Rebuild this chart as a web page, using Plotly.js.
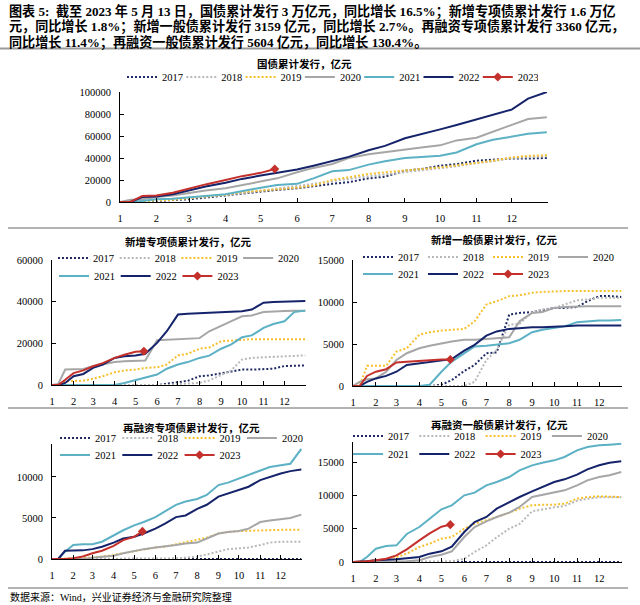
<!DOCTYPE html>
<html>
<head>
<meta charset="utf-8">
<script src="https://cdn.plot.ly/plotly-3.0.1.min.js"></script>
<style>html,body{margin:0;padding:0;background:#fff;}#chart{width:640px;height:605px;}</style>
</head>
<body>
<div id="chart"></div>
<script>
// ---------- DATA (亿元, cumulative issuance) ----------
const MD = ["01-01","01-10","01-20","02-01","02-15","03-01","03-15","04-01","04-15","05-01","05-15","06-01","06-15","07-01","07-15","08-01","08-15","09-01","09-15","10-01","10-15","11-01","11-15","12-01","12-15","12-31"];
const MD_2023 = ["01-01","01-10","01-20","02-01","02-15","03-01","03-15","04-01","04-15","05-01","05-13"];
const YEARS = ["2017","2018","2019","2020","2021","2022","2023"];
const MONTH_LABELS = ["1","2","3","4","5","6","7","8","9","10","11","12"];

// 国债累计发行
const GZ_2017 = [0,0,300,1000,1500,2500,4000,6000,8000,9500,11000,12500,14500,16500,18000,21500,23000,28500,30000,33000,34500,37500,38500,39500,39500,40000];
const GZ_2018 = [0,0,800,2000,3000,4000,5000,6500,8000,10000,12000,14500,16500,19000,21000,23500,25000,27000,28500,30500,32500,35500,37000,40000,41000,41500];
const GZ_2019 = [0,0,500,1500,2000,3500,5000,6500,9000,10000,11500,13000,15000,20000,22500,25500,27000,29000,30000,31500,33500,35500,37500,40500,42000,42500];
const GZ_2020 = [0,2000,2500,4500,6000,8500,10500,12500,15500,18500,21500,27000,31000,34500,40000,43500,45500,47500,49500,51500,56000,58500,64000,70000,75500,77000];
const GZ_2021 = [0,0,1000,2500,3000,4000,5500,7000,10000,13000,15500,16500,21500,28000,29000,34000,37000,40000,41000,42000,45000,52500,56500,59500,62000,63500];
const GZ_2022 = [0,0,4500,5000,7000,10500,14000,17500,21000,24000,26500,29500,33000,37500,41000,47000,51000,58000,61500,66000,70000,75000,79500,84000,94000,100000];
const GZ_2023 = [0,0,5500,6000,8500,12500,16000,20000,23500,26500,30000];

// 新增专项债累计发行
const XZ_2017 = [0,0,0,0,0,0,0,0,0,0,0,0,600,1400,2000,4200,4600,5600,6500,7400,7400,7500,7800,9100,9400,9400];
const XZ_2018 = [0,0,0,0,0,0,0,0,0,0,0,0,0,500,700,1000,2200,4600,6900,12200,13000,13300,13500,13800,14000,14200];
const XZ_2019 = [0,0,1800,1800,2100,3000,4200,6100,7000,7400,8200,8500,9800,14200,15000,17400,18000,21000,21300,22000,22000,22000,22000,22000,22000,22000];
const XZ_2020 = [0,500,7400,7500,7700,9000,9800,11000,11400,11700,11800,21500,21800,22000,22200,22500,25800,28200,30500,33000,33400,35000,35400,35500,35600,35700];
const XZ_2021 = [0,0,0,0,0,0,0,0,1000,2400,3400,5000,7800,9800,11000,13000,14100,17400,19400,22900,23800,27400,29300,30600,35000,35700];
const XZ_2022 = [0,0,1000,4200,5300,8200,9800,13000,13800,14200,15000,20200,25800,33800,34200,34500,34700,35000,35200,35400,36200,39500,39800,40000,40200,40300];
const XZ_2023 = [0,0,2500,5700,7000,9000,10500,13000,14500,16000,16200];

// 新增一般债累计发行
const XY_2017 = [0,0,0,0,0,0,0,0,0,150,700,1800,2500,3900,4000,8500,8700,8800,9000,9300,9300,9400,10100,10700,10700,10600];
const XY_2018 = [0,0,0,0,0,0,0,0,0,0,0,0,500,3100,4300,7300,7400,8800,9100,9300,9700,10200,10300,10500,10500,10500];
const XY_2019 = [0,0,2400,2400,2400,4100,4500,6100,6400,6600,6700,6800,7700,9700,10100,10700,10800,11100,11200,11300,11300,11300,11300,11300,11300,11300];
const XY_2020 = [0,500,800,900,1700,3100,3900,4500,4800,5100,5300,5500,5500,5600,5700,5800,7700,8700,8800,9300,9400,9500,9500,9500,9500,9500];
const XY_2021 = [0,0,0,0,0,0,0,0,150,1700,2900,3900,4700,4800,4900,5100,5500,6400,6700,6900,7100,7600,7700,7800,7800,7850];
const XY_2022 = [0,0,500,900,1200,1700,2500,2700,2900,3000,3200,4200,4900,6000,6500,6800,6900,7000,7000,7100,7100,7200,7200,7200,7200,7200];
const XY_2023 = [0,0,1200,1700,2000,2800,2900,3000,3100,3150,3159];

// 再融资专项债累计发行
const ZZ_2017 = [0,0,0,0,0,0,0,0,0,0,0,0,0,0,0,0,0,0,0,0,0,0,0,0,0,0];
const ZZ_2018 = [0,0,0,0,0,0,0,0,0,0,0,0,0,80,150,300,550,900,1200,1300,1400,1700,2000,2100,2100,2100];
const ZZ_2019 = [0,0,0,80,100,160,300,500,700,1000,1200,1400,1500,1800,2000,2300,2600,3100,3300,3400,3450,3500,3500,3550,3550,3550];
const ZZ_2020 = [0,0,0,0,0,150,300,400,700,1000,1200,1400,1500,1700,1900,2000,2500,3100,3300,3400,3700,4500,4700,4900,5000,5400];
const ZZ_2021 = [0,0,900,1700,1800,1800,2100,2900,3500,4100,4500,5100,5800,6600,7000,7300,7800,9000,9300,9800,10300,10800,11200,11400,11600,13400];
const ZZ_2022 = [0,0,1000,1000,1050,1200,1500,2000,2500,2700,3100,3700,4300,5100,5300,6100,6600,7600,8000,8400,8800,9600,10000,10400,10700,10900];
const ZZ_2023 = [0,0,0,100,300,700,1000,1600,2300,2700,3360];

// 再融资一般债累计发行
const ZY_2017 = [0,0,0,0,0,0,0,0,0,0,0,0,0,0,0,0,0,0,0,0,0,0,0,0,0,0];
const ZY_2018 = [0,0,0,0,0,0,0,0,0,0,100,500,1500,2500,3700,5000,5700,7600,7900,8200,8400,9200,9500,9700,9700,9700];
const ZY_2019 = [0,0,100,250,400,750,1250,2250,2750,3500,3750,5000,5750,6250,6750,7400,8000,8500,8600,8600,8750,9500,9750,9850,9800,9750];
const ZY_2020 = [0,0,0,0,0,0,100,250,750,1100,1600,3750,5250,6100,6750,7400,8250,9750,10100,10500,10750,11500,12250,12750,13000,13500];
const ZY_2021 = [0,0,750,2000,2400,2500,4200,5250,6500,7900,8500,10000,10400,11500,12000,12750,13750,14500,14900,15250,15750,16750,17250,17500,17600,17750];
const ZY_2022 = [0,0,100,250,300,400,550,750,1250,1600,2300,4500,6000,6750,8000,9000,9750,10600,11250,12000,12400,13100,13900,14500,14900,15100];
const ZY_2023 = [0,0,100,250,500,1000,1900,3250,4300,5300,5604];

const PANEL_TITLES = ["国债累计发行，亿元","新增专项债累计发行，亿元","新增一般债累计发行，亿元","再融资专项债累计发行，亿元","再融资一般债累计发行，亿元"];
const PANEL_SERIES = [
  [GZ_2017,GZ_2018,GZ_2019,GZ_2020,GZ_2021,GZ_2022,GZ_2023],
  [XZ_2017,XZ_2018,XZ_2019,XZ_2020,XZ_2021,XZ_2022,XZ_2023],
  [XY_2017,XY_2018,XY_2019,XY_2020,XY_2021,XY_2022,XY_2023],
  [ZZ_2017,ZZ_2018,ZZ_2019,ZZ_2020,ZZ_2021,ZZ_2022,ZZ_2023],
  [ZY_2017,ZY_2018,ZY_2019,ZY_2020,ZY_2021,ZY_2022,ZY_2023]
];
const HEADER_LINES = [
  "图表 5:  截至 2023 年 5 月 13 日，国债累计发行 3 万亿元，同比增长 16.5%；新增专项债累计发行 1.6 万亿",
  "元，同比增长 1.8%；新增一般债累计发行 3159 亿元，同比增长 2.7%。再融资专项债累计发行 3360 亿元，",
  "同比增长 11.4%；再融资一般债累计发行 5604 亿元，同比增长 130.4%。"
];
const SOURCE = "数据来源：Wind，兴业证券经济与金融研究院整理";

// ---------- STYLE / LAYOUT ----------
const W = 640, H = 605;
const FONT = "Liberation Serif, Noto Sans CJK SC, serif";
const YEAR_STYLE = {
  "2017": {color:"#1f2a66", dash:"2px,2px"},
  "2018": {color:"#b8b8b8", dash:"2px,2px"},
  "2019": {color:"#f5c02c", dash:"2px,2px"},
  "2020": {color:"#a6a6a6", dash:"solid"},
  "2021": {color:"#5cb1c5", dash:"solid"},
  "2022": {color:"#15236a", dash:"solid"},
  "2023": {color:"#c4302b", dash:"solid"}
};
// pixel geometry of each panel
const PANELS = [
  {xd:[120,548], yd:[92,202], ymax:100000, dtick:20000, tx:304, ty:64,
   legends:[{x:122, yc:77, ew:14.3, years:YEARS}]},
  {xd:[52,306], yd:[260,385], ymax:60000, dtick:20000, tx:188, ty:242,
   legends:[{x:53, yc:258, ew:16.7, years:YEARS.slice(0,4)},{x:54, yc:276, ew:16.7, years:YEARS.slice(4)}]},
  {xd:[353,622], yd:[260,386], ymax:15000, dtick:5000, tx:494, ty:240,
   legends:[{x:358, yc:257, ew:20, years:YEARS.slice(0,4)},{x:358, yc:274, ew:20, years:YEARS.slice(4)}]},
  {xd:[52,302], yd:[444,559], ymax:14000, dtick:5000, tx:191, ty:428,
   legends:[{x:55, yc:438, ew:17.3, years:YEARS.slice(0,4)},{x:55, yc:455, ew:17.3, years:YEARS.slice(4)}]},
  {xd:[353,622], yd:[442,562], ymax:18000, dtick:5000, tx:499, ty:425,
   legends:[{x:348, yc:436, ew:21.3, years:YEARS.slice(0,4)},{x:348, yc:454, ew:21.3, years:YEARS.slice(4)}]}
];

const px2x = p => p / W;
const px2y = p => 1 - p / H;
const toDate = md => "2021-" + md;
const tickVals = MONTH_LABELS.map((m,i) => "2021-" + String(i+1).padStart(2,"0") + "-01").concat(["2022-01-01"]);
const tickText = MONTH_LABELS.concat([""]);

const traces = [];
const layout = {
  width: W, height: H,
  margin: {l:0, r:0, t:0, b:0},
  paper_bgcolor: "#fff", plot_bgcolor: "rgba(0,0,0,0)",
  showlegend: true,
  font: {family: FONT, color: "#000"},
  annotations: [], shapes: []
};

let legendCount = 0;
PANELS.forEach((P, pi) => {
  const sfx = pi === 0 ? "" : String(pi + 1);
  const xa = "x" + sfx, ya = "y" + sfx;
  const legendOfYear = {};
  P.legends.forEach(L => {
    legendCount += 1;
    const id = legendCount === 1 ? "legend" : "legend" + legendCount;
    layout[id] = {
      orientation: "h", x: px2x(L.x), y: px2y(L.yc - 14.5), xanchor: "left", yanchor: "top",
      bgcolor: "rgba(0,0,0,0)", borderwidth: 0, entrywidth: L.ew, entrywidthmode: "pixels",
      itemwidth: 30, traceorder: "normal",
      font: {family: FONT, size: 10.5, color: "#000"}
    };
    L.years.forEach(y => legendOfYear[y] = id);
  });

  YEARS.forEach((yr, yi) => {
    const vals = PANEL_SERIES[pi][yi];
    const xs = (yr === "2023" ? MD_2023 : MD).map(toDate);
    const st = YEAR_STYLE[yr];
    const is23 = yr === "2023";
    traces.push({
      type: "scatter", mode: "lines", x: xs, y: vals, name: yr,
      xaxis: xa, yaxis: ya, legend: legendOfYear[yr], showlegend: !is23,
      line: {color: st.color, width: 2, dash: st.dash}, hoverinfo: "skip"
    });
    if (is23) {
      traces.push({
        type: "scatter", mode: "lines+markers", x: [xs[xs.length-1]], y: [vals[vals.length-1]], name: yr,
        xaxis: xa, yaxis: ya, legend: legendOfYear[yr], showlegend: true,
        line: {color: st.color, width: 2}, marker: {symbol: "diamond", size: 7, color: st.color},
        hoverinfo: "skip"
      });
    }
  });

  const xname = "xaxis" + sfx, yname = "yaxis" + sfx;
  layout[xname] = {
    type: "date", domain: [px2x(P.xd[0]), px2x(P.xd[1])], anchor: ya,
    range: ["2021-01-01", "2022-01-01"], tickmode: "array", tickvals: tickVals, ticktext: tickText,
    ticks: "inside", ticklen: 4, tickwidth: 1, tickcolor: "#000",
    showline: true, linecolor: "#000", linewidth: 1, showgrid: false, zeroline: false,
    tickfont: {family: FONT, size: 10.5, color: "#000"}, ticklabelstandoff: 6, fixedrange: true
  };
  layout[yname] = {
    domain: [px2y(P.yd[1]), px2y(P.yd[0])], anchor: xa,
    range: [0, P.ymax], tickmode: "linear", tick0: 0, dtick: P.dtick, tickformat: "d",
    ticks: "inside", ticklen: 4, tickwidth: 1, tickcolor: "#000",
    showline: true, linecolor: "#000", linewidth: 1, showgrid: false, zeroline: false,
    tickfont: {family: FONT, size: 10.5, color: "#000"}, ticklabelstandoff: 6, fixedrange: true
  };
  layout.annotations.push({
    xref: "paper", yref: "paper", x: px2x(P.tx), y: px2y(P.ty), xanchor: "center", yanchor: "middle",
    text: PANEL_TITLES[pi], showarrow: false,
    font: {family: FONT, size: 10.5, color: "#000", weight: "bold"}
  });
});

[11, 27, 43].forEach((yc, i) => {
  layout.annotations.push({
    xref: "paper", yref: "paper", x: px2x(7), y: px2y(yc), xanchor: "left", yanchor: "middle", align: "left",
    text: HEADER_LINES[i], showarrow: false, font: {family: FONT, size: 13.1, color: "#000", weight: "bold"}
  });
});
layout.annotations.push({
  xref: "paper", yref: "paper", x: px2x(8), y: px2y(597), xanchor: "left", yanchor: "middle", align: "left",
  text: SOURCE, showarrow: false, font: {family: FONT, size: 10, color: "#000"}
});

[[0,640,48.5,2],[8,628,228,1.5],[8,628,408,1.5],[8,628,588,1.5]].forEach(s => {
  layout.shapes.push({type:"line", xref:"paper", yref:"paper", x0:px2x(s[0]), x1:px2x(s[1]), y0:px2y(s[2]), y1:px2y(s[2]),
    line:{color:"#9a9a9a", width:s[3]}});
});

Plotly.newPlot("chart", traces, layout, {staticPlot: true, displayModeBar: false});
</script>
</body>
</html>
